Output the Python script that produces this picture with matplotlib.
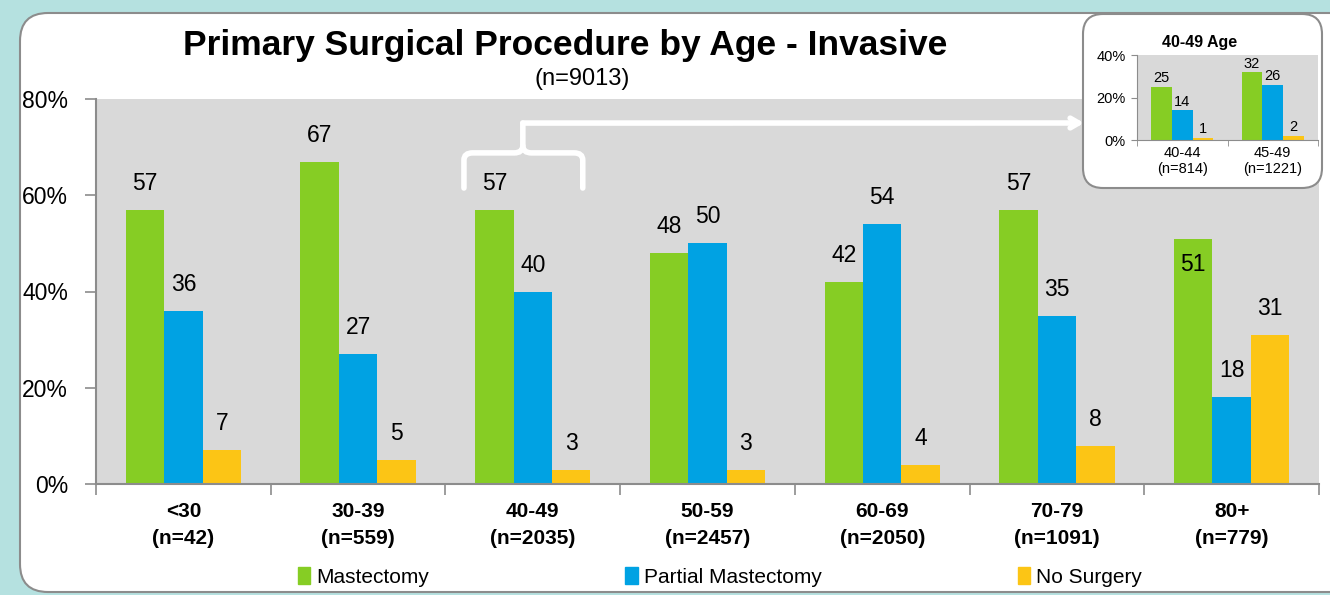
import matplotlib.pyplot as plt
import matplotlib.patches as mpatch
import matplotlib.path as mpath
from matplotlib.transforms import IdentityTransform
import numpy as np

# data
ages = ['<30', '30-39', '40-49', '50-59', '60-69', '70-79', '80+']
counts = [42, 559, 2035, 2457, 2050, 1091, 779]
mastectomy = [57, 67, 57, 48, 42, 57, 51]
partial = [36, 27, 40, 50, 54, 35, 18]
no_surgery = [7, 5, 3, 3, 4, 8, 31]

sub_ages = ['40-44', '45-49']
sub_counts = [814, 1221]
sub_mastectomy = [25, 32]
sub_partial = [14, 26]
sub_no_surgery = [1, 2]

series_names = ['Mastectomy', 'Partial Mastectomy', 'No Surgery']
colors = ['#86CD24', '#00A2E3', '#FCC515']

plt.rcParams['font.family'] = ['Liberation Sans', 'DejaVu Sans']

W, H = 1330, 595
fig = plt.figure(figsize=(W / 100, H / 100), dpi=100)
fig.patch.set_facecolor('#B5E1E0')

def px(x0, y0, x1, y1):
    # pixel box (top-left origin) -> figure fraction rect
    return [x0 / W, 1 - y1 / H, (x1 - x0) / W, (y1 - y0) / H]

# main white rounded panel
panel = mpatch.FancyBboxPatch((20, H - 592), 1360, 579,
                              boxstyle='round,pad=0,rounding_size=28',
                              transform=IdentityTransform(), facecolor='white',
                              edgecolor='#8c8c8c', lw=1.5, zorder=-5)
fig.patches.append(panel)

ax = fig.add_axes(px(96, 99, 1319, 484))
ax.set_facecolor('#D9D9D9')
x = np.arange(len(ages))
bw = 0.22
all_vals = [mastectomy, partial, no_surgery]
for i, vals in enumerate(all_vals):
    bars = ax.bar(x + (i - 1) * bw, vals, bw, color=colors[i], label=series_names[i], zorder=2)
    for j, (b, v) in enumerate(zip(bars, vals)):
        dy = 19
        if i == 0 and ages[j] == '80+':
            dy = -19
        ax.annotate(str(v), (b.get_x() + b.get_width() / 2, v), xytext=(0, dy),
                    textcoords='offset points', ha='center', va='center', fontsize=16.5)

ax.set_xlim(-0.5, len(ages) - 0.5)
ax.set_ylim(0, 80)
ax.set_yticks([0, 20, 40, 60, 80])
ax.set_yticklabels(['0%', '20%', '40%', '60%', '80%'], fontsize=16.5)
ax.set_xticks(x)
ax.set_xticklabels(['%s\n(n=%d)' % (a, n) for a, n in zip(ages, counts)],
                   fontsize=15, fontweight='bold', linespacing=1.55)
ax.set_xticks(np.arange(len(ages) + 1) - 0.5, minor=True)
ax.tick_params(axis='x', which='major', length=0, pad=13)
ax.tick_params(axis='x', which='minor', length=8, color='#8c8c8c', width=1.2, direction='out')
ax.tick_params(axis='y', length=8, color='#8c8c8c', width=1.2, pad=12)
for s in ['top', 'right']:
    ax.spines[s].set_visible(False)
for s in ['left', 'bottom']:
    ax.spines[s].set_color('#8c8c8c')
    ax.spines[s].set_linewidth(1.5)

# bracket over 40-49 group
c = 2 - 0.057
l, r = 2 - 0.394, 2 + 0.286
yb, ya, yt = 61.5, 68.8, 75.0
k = 0.05
verts = [(l, yb), (l, ya - 1.5), (l, ya), (l + k, ya), (c - k, ya), (c, ya), (c, ya + 1.5), (c, yt)]
codes = [mpath.Path.MOVETO, mpath.Path.LINETO, mpath.Path.CURVE3, mpath.Path.CURVE3,
         mpath.Path.LINETO, mpath.Path.CURVE3, mpath.Path.CURVE3, mpath.Path.LINETO]
ax.add_patch(mpatch.PathPatch(mpath.Path(verts, codes), fill=False, edgecolor='white',
                              lw=4, capstyle='round', zorder=3, clip_on=False))
verts2 = [(r, yb), (r, ya - 1.5), (r, ya), (r - k, ya), (c + k, ya), (c, ya), (c, ya + 1.5)]
codes2 = [mpath.Path.MOVETO, mpath.Path.LINETO, mpath.Path.CURVE3, mpath.Path.CURVE3,
          mpath.Path.LINETO, mpath.Path.CURVE3, mpath.Path.CURVE3]
ax.add_patch(mpatch.PathPatch(mpath.Path(verts2, codes2), fill=False, edgecolor='white',
                              lw=4, capstyle='round', zorder=3, clip_on=False))
ax.annotate('', xy=(1084, H - 123), xycoords='figure pixels', xytext=(c, yt),
            textcoords='data', annotation_clip=False,
            arrowprops=dict(arrowstyle='->,head_length=0.6,head_width=0.35', color='white',
                            lw=4, shrinkA=0, shrinkB=0), zorder=3)

# titles
fig.text(565 / W, 1 - 45 / H, 'Primary Surgical Procedure by Age - Invasive', ha='center',
         va='center', fontsize=25.5, fontweight='bold')
fig.text(582 / W, 1 - 79 / H, '(n=9013)', ha='center', va='center', fontsize=17)

# legend
handles = [mpatch.Patch(color=cl) for cl in colors]
fig.legend(handles, series_names, loc='center', bbox_to_anchor=(720 / W, 1 - 577 / H), ncol=3,
           frameon=False, fontsize=15, handlelength=0.6, handleheight=0.9, handletextpad=0.3,
           columnspacing=9.4)

# inset box
ibox = mpatch.FancyBboxPatch((1083, H - 188), 239, 174,
                             boxstyle='round,pad=0,rounding_size=20',
                             transform=IdentityTransform(), facecolor='white',
                             edgecolor='#8c8c8c', lw=1.5, zorder=4)
fig.patches.append(ibox)

iax = fig.add_axes(px(1137, 55, 1318, 140), zorder=5)
iax.set_facecolor('#D9D9D9')
xi = np.arange(len(sub_ages))
for i, vals in enumerate([sub_mastectomy, sub_partial, sub_no_surgery]):
    bars = iax.bar(xi + (i - 1) * 0.23, vals, 0.23, color=colors[i], zorder=2)
    for b, v in zip(bars, vals):
        iax.annotate(str(v), (b.get_x() + b.get_width() / 2, v), xytext=(0, 1),
                     textcoords='offset points', ha='center', va='bottom', fontsize=10.5)
iax.set_xlim(-0.5, len(sub_ages) - 0.5)
iax.set_ylim(0, 40)
iax.set_yticks([0, 20, 40])
iax.set_yticklabels(['0%', '20%', '40%'], fontsize=10.5)
iax.set_xticks(xi)
iax.set_xticklabels(['%s\n(n=%d)' % (a, n) for a, n in zip(sub_ages, sub_counts)], fontsize=10.5)
iax.set_xticks(np.arange(len(sub_ages) + 1) - 0.5, minor=True)
iax.tick_params(axis='x', which='major', length=0, pad=4)
iax.tick_params(axis='x', which='minor', length=4, color='#8c8c8c')
iax.tick_params(axis='y', length=4, color='#8c8c8c', pad=4)
for s in ['top', 'right']:
    iax.spines[s].set_visible(False)
for s in ['left', 'bottom']:
    iax.spines[s].set_color('#8c8c8c')
fig.text(1200 / W, 1 - 42 / H, '40-49 Age', ha='center', va='center', fontsize=11.5,
         fontweight='bold', zorder=6)

fig.savefig('out.png', dpi=100)
